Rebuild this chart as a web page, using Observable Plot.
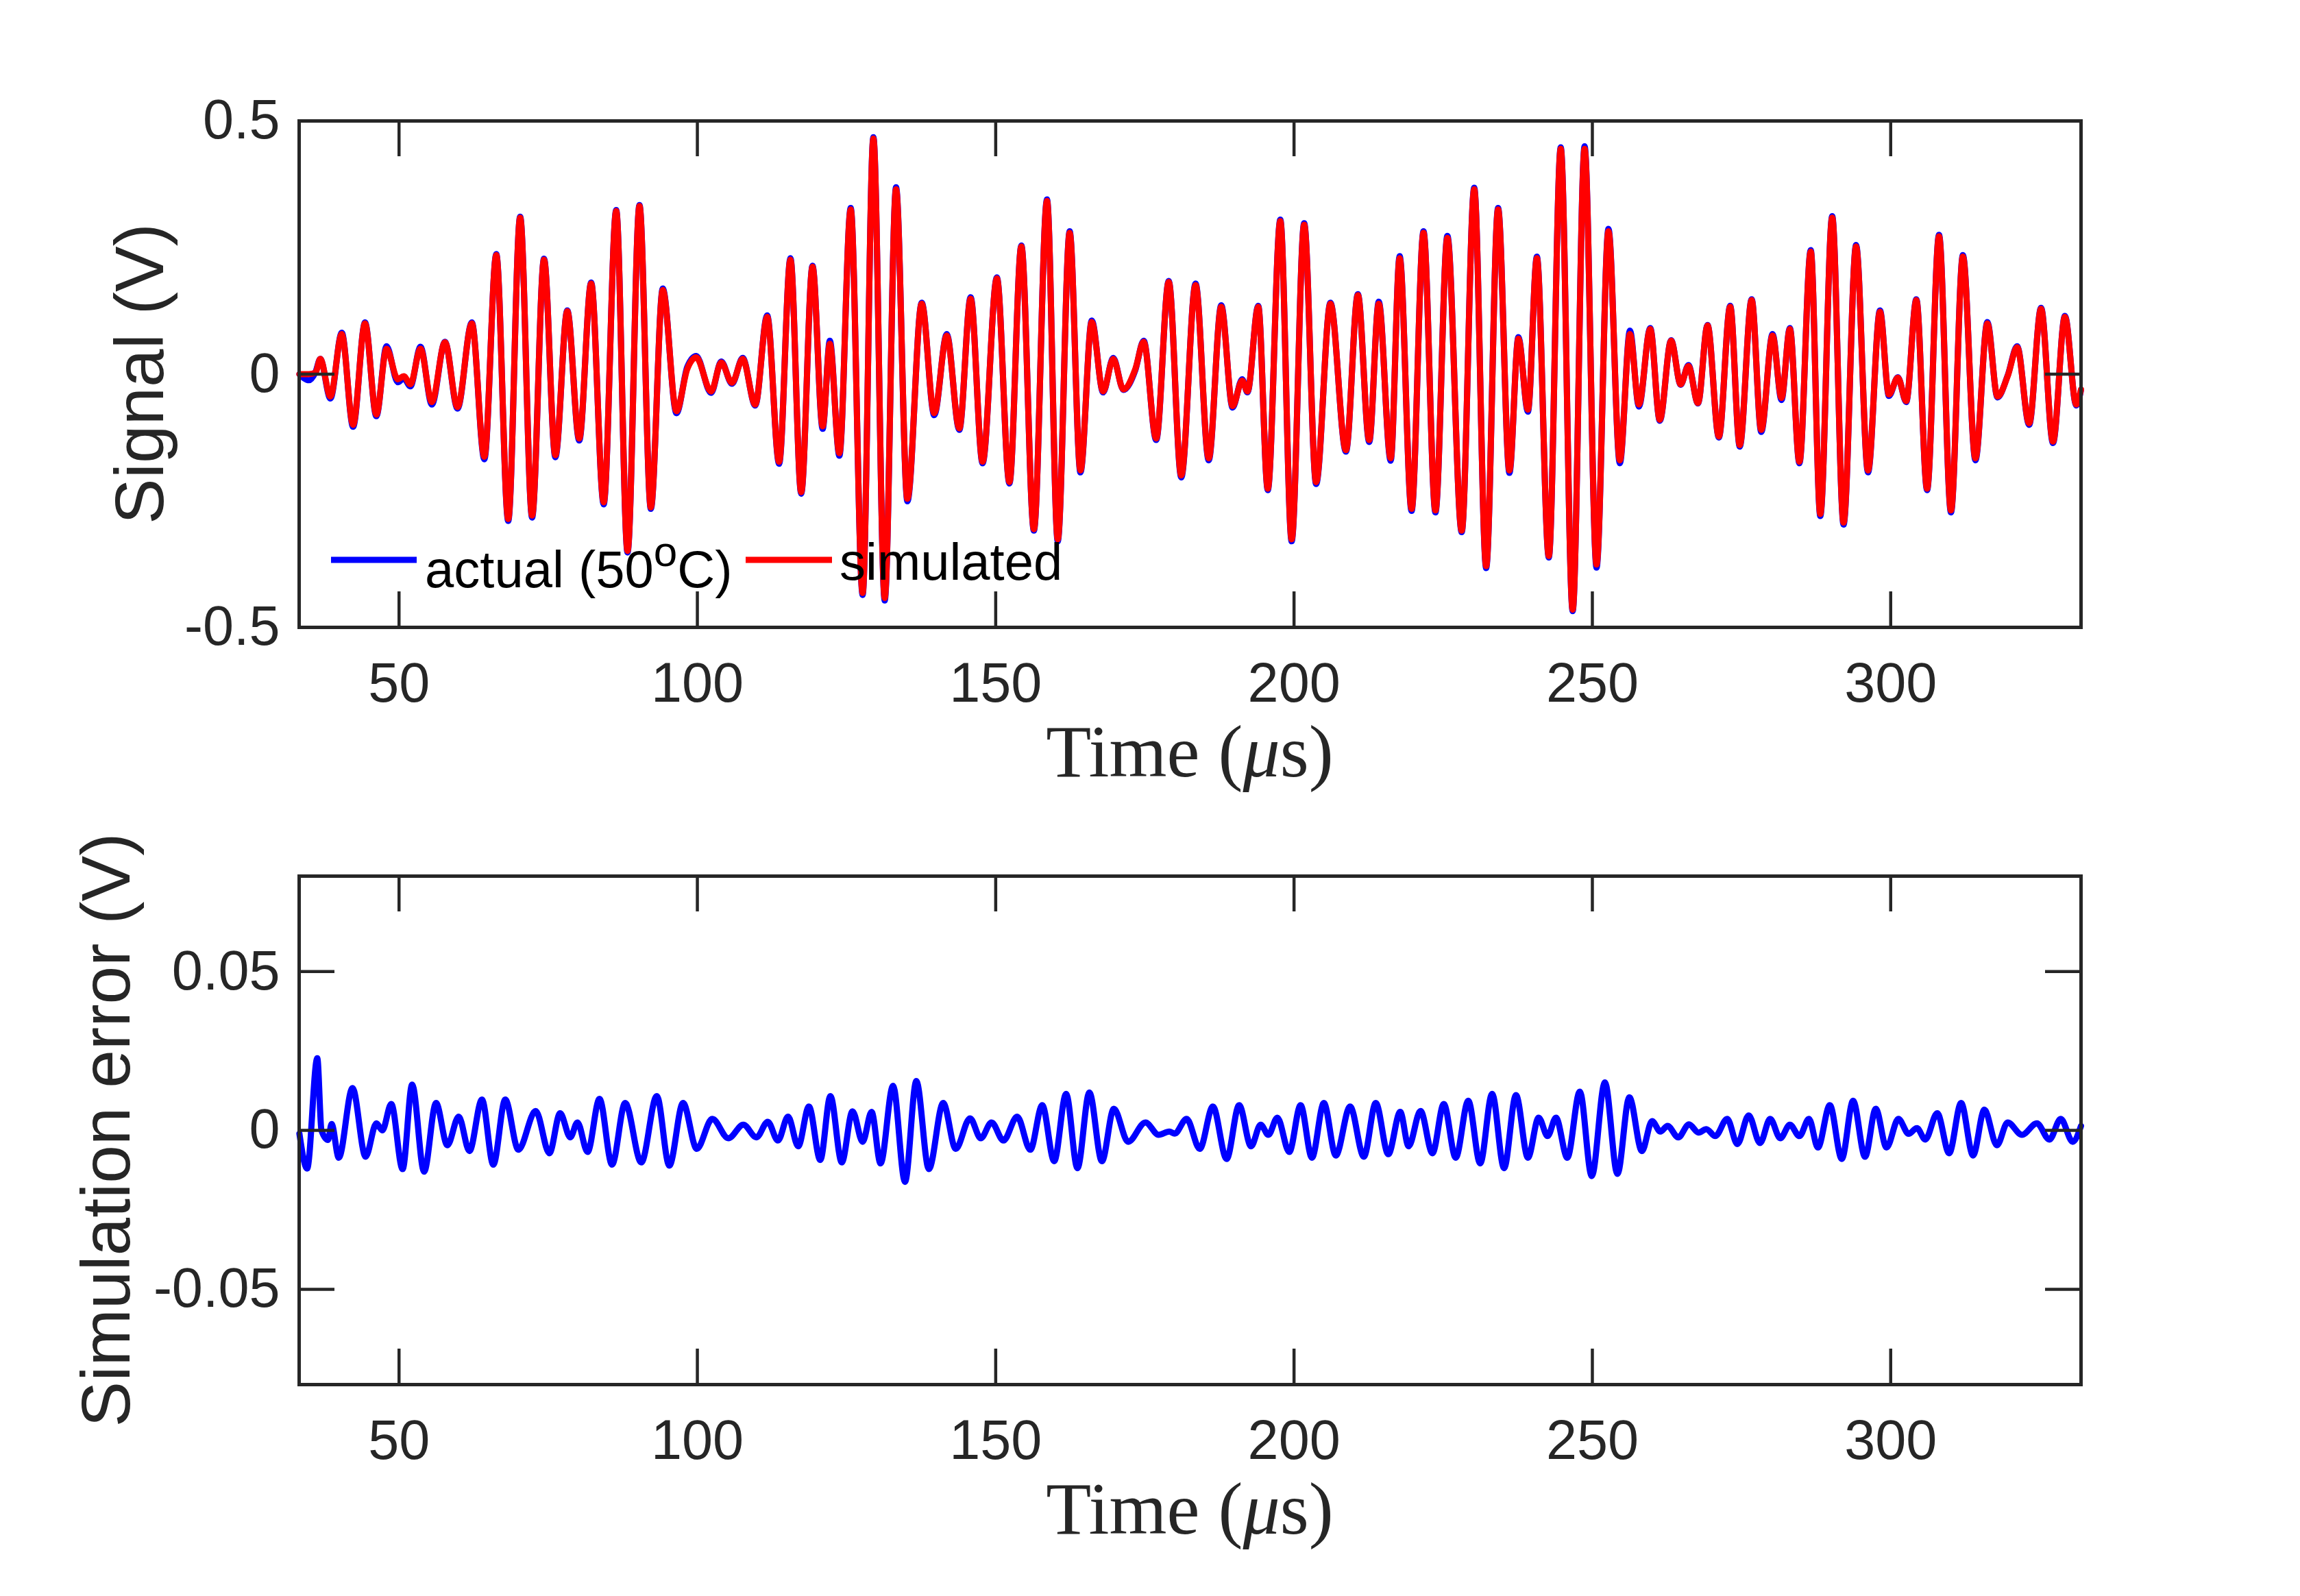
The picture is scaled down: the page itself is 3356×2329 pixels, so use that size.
<!DOCTYPE html>
<html><head><meta charset="utf-8">
<script src="https://cdn.jsdelivr.net/npm/d3@7"></script>
<script src="https://cdn.jsdelivr.net/npm/@observablehq/plot@0.6"></script>
<style>
html,body{margin:0;padding:0;background:#fff;}
#wrap{position:relative;width:3356px;height:2329px;background:#fff;overflow:hidden;}
#wrap svg{position:absolute;left:0;}
</style></head><body><div id="wrap"></div>
<script>
// ---------- data ----------
const topT = [
33.3,34.9,36.0,36.8,38.5,40.4,42.3,44.3,46.2,47.9,
49.8,50.8,51.9,53.6,55.5,57.7,59.8,62.2,64.3,66.3,
68.3,70.3,72.3,74.3,76.2,78.2,80.2,82.2,84.3,86.4,
88.3,90.3,92.2,94.2,96.5,98.3,99.8,102.3,104.0,105.8,
107.6,109.7,111.7,113.7,115.6,117.4,119.3,121.0,122.2,123.8,
125.7,127.7,129.5,131.4,133.3,135.2,137.6,139.7,141.8,143.9,
145.8,147.8,150.2,152.3,154.3,156.4,158.6,160.4,162.4,164.2,
166.1,168.0,169.7,171.4,173.4,174.8,176.9,179.0,181.1,183.5,
185.7,187.8,189.7,191.3,192.2,194.0,195.6,197.7,199.6,201.7,
203.7,206.1,208.7,210.7,212.6,214.2,216.2,217.7,219.7,221.7,
223.7,225.7,228.1,230.2,232.2,234.2,236.1,237.6,239.2,240.7,
242.7,244.7,246.7,248.7,250.7,252.7,254.6,256.3,257.8,259.7,
261.3,263.2,264.8,266.1,267.7,269.3,271.2,273.1,274.7,276.7,
278.3,280.2,281.7,283.1,284.7,286.6,288.2,290.2,292.1,294.2,
296.2,298.2,299.7,301.2,302.6,304.3,306.1,308.1,310.1,312.1,
314.2,316.2,317.9,319.6,321.2,323.2,325.2,327.2,329.2,331.1,
331.9];
const simV = [
0.000,0.000,0.003,0.030,-0.044,0.079,-0.100,0.100,-0.080,0.050,
-0.010,-0.004,-0.020,0.050,-0.055,0.063,-0.065,0.100,-0.163,0.235,
-0.286,0.309,-0.279,0.226,-0.160,0.124,-0.127,0.179,-0.253,0.322,
-0.349,0.332,-0.263,0.166,-0.073,0.010,0.033,-0.034,0.023,-0.017,
0.030,-0.060,0.113,-0.173,0.226,-0.233,0.212,-0.103,0.060,-0.156,
0.325,-0.432,0.465,-0.442,0.365,-0.246,0.139,-0.077,0.076,-0.107,
0.149,-0.173,0.189,-0.213,0.252,-0.306,0.342,-0.326,0.279,-0.190,
0.103,-0.034,0.030,-0.030,0.010,0.064,-0.127,0.182,-0.200,0.176,
-0.166,0.133,-0.063,-0.013,-0.034,0.133,-0.226,0.302,-0.326,0.295,
-0.213,0.139,-0.150,0.156,-0.130,0.139,-0.166,0.229,-0.266,0.279,
-0.269,0.269,-0.309,0.365,-0.379,0.325,-0.190,0.070,-0.070,0.229,
-0.359,0.445,-0.465,0.445,-0.376,0.282,-0.170,0.079,-0.060,0.089,
-0.090,0.066,-0.020,0.016,-0.057,0.096,-0.123,0.133,-0.140,0.146,
-0.110,0.076,-0.047,0.089,-0.173,0.242,-0.276,0.309,-0.293,0.252,
-0.190,0.123,-0.040,-0.007,-0.053,0.146,-0.226,0.272,-0.269,0.232,
-0.166,0.100,-0.044,-0.004,0.053,-0.097,0.129,-0.133,0.113,-0.060,
-0.030];
const actualV = [
0.000,-0.012,0.004,0.030,-0.048,0.082,-0.104,0.102,-0.083,0.055,
-0.016,-0.008,-0.024,0.054,-0.060,0.064,-0.068,0.102,-0.168,0.237,
-0.290,0.311,-0.283,0.228,-0.164,0.126,-0.131,0.181,-0.257,0.324,
-0.352,0.334,-0.266,0.169,-0.077,0.014,0.036,-0.037,0.025,-0.019,
0.032,-0.062,0.116,-0.177,0.229,-0.236,0.214,-0.108,0.066,-0.161,
0.328,-0.436,0.468,-0.447,0.369,-0.251,0.141,-0.081,0.079,-0.110,
0.152,-0.176,0.191,-0.216,0.254,-0.309,0.345,-0.330,0.282,-0.194,
0.106,-0.036,0.032,-0.031,0.008,0.066,-0.130,0.184,-0.204,0.179,
-0.170,0.136,-0.066,-0.010,-0.036,0.135,-0.229,0.305,-0.330,0.298,
-0.217,0.141,-0.153,0.158,-0.134,0.143,-0.171,0.233,-0.270,0.282,
-0.273,0.273,-0.312,0.368,-0.383,0.328,-0.195,0.073,-0.074,0.232,
-0.362,0.448,-0.468,0.450,-0.382,0.287,-0.176,0.086,-0.064,0.091,
-0.092,0.067,-0.021,0.018,-0.058,0.097,-0.125,0.135,-0.143,0.148,
-0.114,0.079,-0.051,0.091,-0.176,0.245,-0.280,0.312,-0.297,0.255,
-0.194,0.126,-0.043,-0.006,-0.055,0.148,-0.229,0.275,-0.273,0.235,
-0.170,0.103,-0.046,-0.003,0.055,-0.100,0.131,-0.136,0.115,-0.062,
-0.031];

const errT = [
33.3,34.6,36.3,37.0,38.1,38.7,39.9,42.2,44.4,46.2,
47.2,48.7,50.6,52.2,54.2,56.2,58.1,60.0,61.8,63.9,
65.8,67.8,70.0,72.9,75.2,77.0,78.7,79.9,81.6,83.6,
85.7,87.9,90.6,93.2,95.3,97.6,99.9,102.5,105.2,107.7,
109.9,111.8,113.5,115.2,116.9,118.7,120.6,122.3,124.2,126.0,
127.7,129.2,130.7,132.8,134.8,136.7,138.8,141.2,143.3,145.7,
147.5,149.3,151.3,153.6,155.8,157.8,159.8,161.8,163.7,165.7,
167.8,169.8,172.2,175.1,177.3,179.1,180.0,182.0,184.2,186.4,
188.7,190.8,192.8,194.4,195.7,197.2,199.2,201.1,203.0,205.0,
207.0,209.4,211.7,213.7,215.8,217.8,219.2,221.2,223.2,225.1,
227.1,229.2,231.2,233.2,235.2,237.2,239.2,241.0,242.5,243.9,
245.8,247.9,249.9,252.1,254.2,256.2,258.3,260.0,261.4,262.6,
264.4,266.2,267.8,269.1,270.6,272.6,274.3,276.2,278.1,279.8,
281.5,283.1,284.7,286.3,287.8,289.8,291.8,293.7,295.7,297.5,
299.3,301.3,303.0,304.4,305.8,307.8,309.8,311.8,313.8,315.7,
317.8,319.6,322.0,324.5,326.6,328.5,330.5,331.9];
const errV = [
-0.0010,-0.0120,0.0227,0.0000,-0.0030,0.0020,-0.0086,0.0133,-0.0083,0.0022,
0.0000,0.0083,-0.0122,0.0144,-0.0130,0.0086,-0.0047,0.0043,-0.0065,0.0097,
-0.0108,0.0097,-0.0061,0.0061,-0.0072,0.0054,-0.0022,0.0025,-0.0068,0.0099,
-0.0108,0.0086,-0.0101,0.0108,-0.0111,0.0086,-0.0058,0.0036,-0.0025,0.0018,
-0.0022,0.0027,-0.0032,0.0043,-0.0050,0.0075,-0.0093,0.0108,-0.0101,0.0060,
-0.0036,0.0058,-0.0104,0.0140,-0.0162,0.0155,-0.0122,0.0086,-0.0058,0.0038,
-0.0025,0.0025,-0.0032,0.0043,-0.0061,0.0079,-0.0097,0.0115,-0.0119,0.0119,
-0.0097,0.0068,-0.0036,0.0025,-0.0014,-0.0004,-0.0010,0.0036,-0.0058,0.0075,
-0.0090,0.0079,-0.0050,0.0018,-0.0014,0.0040,-0.0068,0.0079,-0.0086,0.0086,
-0.0079,0.0075,-0.0083,0.0086,-0.0075,0.0058,-0.0050,0.0061,-0.0072,0.0083,
-0.0086,0.0093,-0.0104,0.0115,-0.0119,0.0111,-0.0086,0.0040,-0.0018,0.0040,
-0.0086,0.0122,-0.0144,0.0151,-0.0137,0.0104,-0.0065,0.0029,-0.0004,0.0014,
-0.0022,0.0019,-0.0007,0.0004,-0.0018,0.0036,-0.0043,0.0047,-0.0040,0.0036,
-0.0025,0.0018,-0.0018,0.0036,-0.0054,0.0079,-0.0090,0.0093,-0.0083,0.0068,
-0.0054,0.0036,-0.0011,0.0007,-0.0029,0.0054,-0.0072,0.0086,-0.0079,0.0065,
-0.0047,0.0025,-0.0014,0.0022,-0.0029,0.0036,-0.0036,0.0014];

const xTicks = [50, 100, 150, 200, 250, 300];
const xTickLabels = ["50", "100", "150", "200", "250", "300"];
const xDomain = [33.26, 331.9];
const topYTicks = [-0.5, 0, 0.5];
const topYTickLabels = ["-0.5", "0", "0.5"];
const topYDomain = [-0.5, 0.5];
const botYTicks = [-0.05, 0, 0.05];
const botYTickLabels = ["-0.05", "0", "0.05"];
const botYDomain = [-0.08, 0.08];
const seriesColors = {actual: "#0000ff", simulated: "#ff0000", error: "#0000ff"};

// ---------- layout ----------
const W = 3356, ML = 436, MR = 320, TICK = 52, AX = "#262626", LW = 9;
const innerW = W - ML - MR;
const SANS = "'Liberation Sans', Arial, Helvetica, sans-serif";
const SERIF = "'Liberation Serif', 'Times New Roman', serif";
const wrap = document.getElementById("wrap");

function panel({rows, lines, yDomain, yTicks, yLabels, height, mt, mb, ylabel, ylabelDx, top}) {
  const innerH = height - mt - mb;
  const fmtX = d => xTickLabels[xTicks.indexOf(d)];
  const fmtY = d => yLabels[yTicks.indexOf(d)];
  const plot = Plot.plot({
    width: W, height, marginLeft: ML, marginRight: MR, marginTop: mt, marginBottom: mb,
    x: {domain: xDomain}, y: {domain: yDomain},
    style: {fontFamily: SANS, fontSize: "81px", color: AX, background: "transparent", overflow: "visible"},
    marks: [
      ...lines.map(l => Plot.line(rows, {x: "t", y: l.key, stroke: l.color, strokeWidth: LW, curve: "monotone-x", strokeLinejoin: "round", strokeLinecap: "round"})),
      Plot.ruleX(xTicks, {x: d => d, stroke: AX, strokeWidth: 4.5, insetTop: innerH - TICK}),
      Plot.ruleX(xTicks, {x: d => d, stroke: AX, strokeWidth: 4.5, insetBottom: innerH - TICK}),
      Plot.ruleY(yTicks, {y: d => d, stroke: AX, strokeWidth: 4.5, insetRight: innerW - TICK}),
      Plot.ruleY(yTicks, {y: d => d, stroke: AX, strokeWidth: 4.5, insetLeft: innerW - TICK}),
      Plot.frame({stroke: AX, strokeWidth: 5}),
      Plot.axisX(xTicks, {tickSize: 0, tickPadding: 51, tickFormat: fmtX, label: null, fill: AX}),
      Plot.axisY(yTicks, {tickSize: 0, tickPadding: 28, tickFormat: fmtY, label: null, fill: AX})
    ]
  });
  plot.style.top = top + "px";
  wrap.appendChild(plot);
  const svg = d3.select(plot);
  // y label
  svg.append("text")
    .attr("transform", `translate(${ML - ylabelDx},${mt + innerH / 2}) rotate(-90)`)
    .attr("text-anchor", "middle").attr("dominant-baseline", "central")
    .style("font-family", SANS).style("font-size", "100px").attr("fill", AX)
    .text(ylabel);
  // x label (LaTeX style)
  const xl = svg.append("text")
    .attr("x", ML + innerW / 2).attr("y", mt + innerH + 218)
    .attr("text-anchor", "middle")
    .style("font-family", SERIF).style("font-size", "108px").attr("fill", AX);
  xl.append("tspan").text("Time (");
  xl.append("tspan").style("font-style", "italic").text("\u03bc");
  xl.append("tspan").text("s)");
  return svg;
}

const topRows = topT.map((t, i) => ({t, actual: actualV[i], simulated: simV[i]}));
const botRows = errT.map((t, i) => ({t, error: errV[i]}));

const topSvg = panel({
  rows: topRows,
  lines: [{key: "actual", color: seriesColors.actual}, {key: "simulated", color: seriesColors.simulated}],
  yDomain: topYDomain, yTicks: topYTicks, yLabels: topYTickLabels,
  height: 1200, mt: 176, mb: 285, ylabel: "Signal (V)", ylabelDx: 233, top: 0
});
panel({
  rows: botRows,
  lines: [{key: "error", color: seriesColors.error}],
  yDomain: botYDomain, yTicks: botYTicks, yLabels: botYTickLabels,
  height: 1129, mt: 78, mb: 309, ylabel: "Simulation error (V)", ylabelDx: 282, top: 1200
});

// legend (no box), inside the top axes
const lg = topSvg.append("g").style("font-family", SANS).style("font-size", "76px").attr("text-anchor", "start");
lg.append("line").attr("x1", 483).attr("x2", 608).attr("y1", 817).attr("y2", 817)
  .attr("stroke", seriesColors.actual).attr("stroke-width", LW);
const t1 = lg.append("text").attr("x", 620).attr("y", 857).attr("fill", "#000").attr("text-anchor", "start");
t1.append("tspan").text("actual (50");
t1.append("tspan").attr("dy", -31).style("font-size", "62px").text("o");
t1.append("tspan").attr("dy", 31).text("C)");
lg.append("line").attr("x1", 1088).attr("x2", 1214).attr("y1", 817).attr("y2", 817)
  .attr("stroke", seriesColors.simulated).attr("stroke-width", LW);
lg.append("text").attr("x", 1225).attr("y", 846).attr("fill", "#000").attr("text-anchor", "start").text("simulated");
</script>
</body></html>
